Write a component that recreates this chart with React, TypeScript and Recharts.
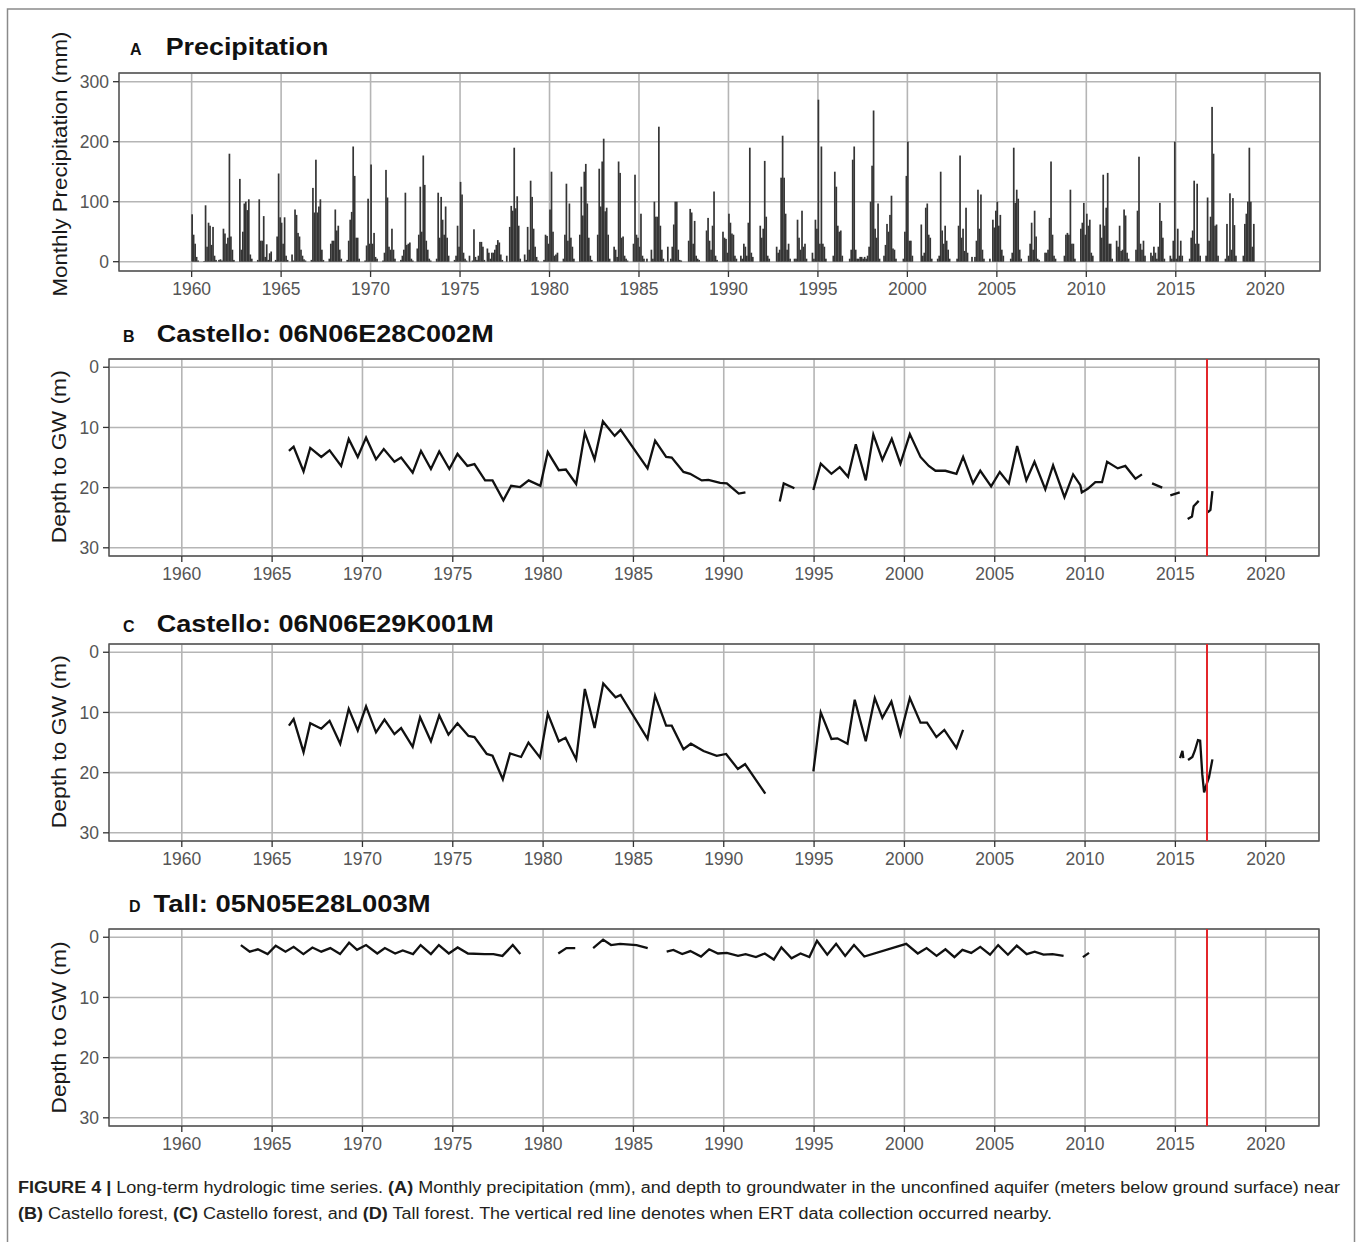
import {
  BarChart,
  Bar,
  LineChart,
  Line,
  XAxis,
  YAxis,
  CartesianGrid,
  ReferenceLine,
  ReferenceArea,
} from "recharts";

// ---- data ----
const firstPrecipYear = 1960;

// monthly precipitation (mm), one row per calendar year, Jan..Dec
const precipMonthly: number[][] = [
  [79, 45, 30, 8, 2, 0, 0, 0, 1, 94, 25, 65], // 1960
  [60, 28, 58, 10, 3, 0, 3, 4, 2, 55, 47, 30],
  [40, 180, 42, 20, 3, 0, 0, 0, 138, 20, 50, 97],
  [100, 86, 104, 12, 5, 0, 0, 0, 3, 104, 35, 35],
  [76, 8, 29, 3, 14, 17, 0, 0, 3, 42, 147, 74],
  [65, 30, 74, 10, 3, 0, 0, 12, 2, 87, 78, 48], // 1965
  [42, 20, 10, 4, 2, 0, 0, 0, 3, 123, 82, 170],
  [82, 92, 104, 20, 3, 0, 0, 0, 5, 30, 35, 35],
  [87, 52, 60, 20, 5, 0, 0, 0, 3, 35, 70, 83],
  [192, 143, 40, 40, 5, 0, 0, 0, 2, 27, 105, 30],
  [162, 30, 48, 8, 5, 0, 0, 0, 2, 15, 153, 107], // 1970
  [25, 20, 55, 20, 5, 0, 0, 0, 3, 10, 20, 115],
  [28, 30, 32, 5, 2, 0, 0, 22, 45, 125, 50, 177],
  [128, 35, 20, 5, 2, 0, 0, 0, 5, 115, 40, 108],
  [70, 45, 92, 40, 10, 0, 0, 0, 3, 10, 60, 25],
  [133, 112, 15, 5, 2, 0, 10, 0, 2, 54, 8, 3], // 1975
  [10, 33, 33, 25, 3, 0, 22, 15, 5, 15, 15, 20],
  [28, 36, 32, 12, 3, 0, 0, 10, 0, 58, 93, 85],
  [190, 89, 109, 60, 5, 0, 0, 12, 3, 58, 20, 135],
  [108, 55, 25, 8, 2, 0, 0, 0, 3, 45, 43, 30],
  [87, 150, 50, 10, 12, 15, 0, 0, 0, 5, 45, 130], // 1980
  [35, 97, 40, 25, 5, 0, 0, 0, 45, 125, 77, 150],
  [163, 97, 40, 10, 3, 0, 0, 0, 45, 155, 92, 167],
  [205, 84, 90, 45, 5, 0, 0, 25, 20, 8, 167, 148],
  [40, 42, 10, 5, 2, 0, 0, 0, 30, 145, 45, 40],
  [25, 80, 10, 5, 0, 5, 0, 0, 20, 5, 100, 75], // 1985
  [75, 225, 60, 20, 5, 0, 0, 25, 0, 5, 25, 62],
  [100, 100, 20, 3, 2, 0, 0, 0, 0, 35, 88, 82],
  [30, 68, 10, 5, 3, 0, 0, 0, 0, 52, 73, 35],
  [20, 60, 117, 10, 3, 0, 0, 0, 50, 40, 38, 15],
  [80, 65, 47, 45, 10, 5, 0, 0, 10, 5, 30, 25], // 1990
  [10, 65, 190, 15, 8, 0, 0, 0, 0, 60, 40, 55],
  [168, 75, 10, 5, 0, 0, 0, 0, 25, 15, 20, 140],
  [210, 140, 80, 20, 30, 5, 0, 0, 5, 5, 70, 40],
  [20, 85, 25, 30, 5, 0, 0, 0, 15, 5, 70, 55],
  [270, 30, 192, 30, 25, 5, 0, 0, 0, 0, 10, 150], // 1995
  [125, 60, 50, 52, 10, 0, 0, 0, 0, 5, 20, 170],
  [192, 20, 5, 5, 8, 8, 5, 8, 5, 10, 25, 100],
  [160, 252, 55, 40, 97, 5, 0, 0, 10, 28, 63, 50],
  [78, 110, 22, 20, 5, 0, 0, 0, 0, 5, 50, 143],
  [200, 35, 35, 10, 0, 0, 0, 0, 0, 62, 10, 15], // 2000
  [90, 97, 45, 40, 5, 0, 0, 0, 5, 10, 150, 52],
  [30, 60, 35, 20, 5, 0, 0, 0, 0, 5, 60, 177],
  [40, 55, 18, 90, 15, 0, 0, 8, 0, 8, 35, 120],
  [55, 112, 20, 5, 0, 0, 0, 5, 0, 70, 57, 85],
  [100, 60, 78, 20, 10, 0, 0, 0, 0, 5, 15, 190], // 2005
  [98, 120, 105, 20, 5, 0, 0, 0, 0, 10, 30, 65],
  [20, 85, 42, 5, 3, 0, 0, 0, 15, 15, 20, 73],
  [167, 45, 10, 5, 0, 0, 0, 0, 0, 10, 45, 48],
  [45, 120, 30, 30, 5, 0, 0, 0, 55, 65, 98, 45],
  [80, 60, 70, 15, 10, 0, 0, 0, 0, 62, 40, 145], // 2010
  [60, 90, 148, 30, 30, 5, 0, 0, 35, 25, 60, 18],
  [20, 87, 77, 15, 5, 0, 0, 0, 0, 20, 85, 175],
  [30, 20, 35, 10, 0, 0, 0, 15, 10, 25, 15, 5],
  [25, 98, 68, 40, 5, 0, 0, 0, 10, 5, 35, 200],
  [5, 55, 10, 35, 10, 0, 0, 0, 0, 5, 40, 52], // 2015
  [135, 30, 130, 30, 10, 0, 0, 0, 10, 107, 35, 75],
  [258, 180, 60, 62, 10, 0, 0, 0, 0, 5, 63, 10],
  [114, 20, 106, 61, 10, 0, 0, 0, 0, 10, 63, 80],
  [100, 190, 100, 25, 63], // 2019 (Jan-May)
];

const yearTicks = [1960, 1965, 1970, 1975, 1980, 1985, 1990, 1995, 2000, 2005, 2010, 2015, 2020];
const precipTicks = [0, 100, 200, 300];
const depthTicks = [0, 10, 20, 30];
const ertDate = 2016.75;

// depth to groundwater (m); null = no measurements
const wellBTime = [
  1965.93, 1966.19, 1966.74, 1967.11, 1967.72, 1968.18, 1968.82, 1969.24, 1969.74, 1970.2,
  1970.75, 1971.18, 1971.77, 1972.14, 1972.78, 1973.24, 1973.79, 1974.25, 1974.81, 1975.26,
  1975.81, 1976.2, 1976.79, 1977.2, 1977.8, 1978.23, 1978.73, 1979.2, 1979.85, 1980.26,
  1980.87, 1981.26, 1981.83, 1982.31, 1982.85, 1983.31, 1983.96, 1984.29, 1985.78, 1986.2,
  1986.81, 1987.12, 1987.77, 1988.14, 1988.78, 1989.15, 1989.8, 1990.17, 1990.83, 1991.2,
  1992.2, 1993.1, 1993.32, 1993.91, 1994.4, 1994.96, 1995.37, 1995.96, 1996.42, 1996.88,
  1997.31, 1997.86, 1998.28, 1998.78, 1999.3, 1999.78, 2000.3, 2000.89, 2001.35, 2001.72,
  2002.27, 2002.88, 2003.25, 2003.8, 2004.2, 2004.8, 2005.28, 2005.78, 2006.24, 2006.75,
  2007.2, 2007.8, 2008.23, 2008.86, 2009.34, 2009.74, 2009.82, 2010.15, 2010.57, 2010.94,
  2011.22, 2011.81, 2012.23, 2012.79, 2013.15, 2013.43, 2013.71, 2014.27, 2014.5, 2014.72,
  2015.24, 2015.46, 2015.68, 2015.92, 2016.01, 2016.29, 2016.5, 2016.79, 2016.94, 2017.05,
];
const wellBDepth = [
  13.9, 13.2, 17.3, 13.4, 14.9, 13.8, 16.4, 11.9, 14.9, 11.7,
  15.3, 13.6, 15.7, 15.0, 17.5, 13.9, 16.9, 14.0, 16.9, 14.4,
  16.4, 16.1, 18.8, 18.8, 22.1, 19.7, 19.9, 18.8, 19.7, 14.1,
  17.1, 17.0, 19.4, 10.9, 15.3, 9.0, 11.4, 10.4, 16.8, 12.2,
  14.9, 15.0, 17.4, 17.7, 18.8, 18.7, 19.2, 19.3, 21.0, 20.8,
  null, 22.3, 19.3, 20.1, null, 20.4, 16.0, 17.7, 16.6, 18.2,
  12.8, 18.8, 11.2, 15.4, 11.9, 16.0, 11.1, 14.9, 16.4, 17.2,
  17.2, 17.7, 14.9, 19.3, 17.2, 19.8, 17.4, 19.3, 13.1, 18.8,
  15.7, 20.3, 16.3, 21.6, 17.8, 19.6, 20.8, 20.2, 19.1, 19.1,
  15.7, 16.8, 16.4, 18.5, 17.8, null, 19.3, 20.0, null, 21.3,
  20.8, null, 25.2, 24.8, 23.1, 22.2, null, 24.1, 23.7, 20.6,
];

const wellCTime = [
  1965.93, 1966.19, 1966.74, 1967.11, 1967.72, 1968.18, 1968.77, 1969.24, 1969.74, 1970.2,
  1970.75, 1971.22, 1971.77, 1972.14, 1972.78, 1973.19, 1973.79, 1974.25, 1974.76, 1975.26,
  1975.87, 1976.2, 1976.88, 1977.2, 1977.77, 1978.17, 1978.78, 1979.19, 1979.83, 1980.26,
  1980.87, 1981.24, 1981.83, 1982.31, 1982.85, 1983.33, 1984.01, 1984.29, 1985.78, 1986.2,
  1986.81, 1987.12, 1987.77, 1988.18, 1988.88, 1989.61, 1990.13, 1990.78, 1991.18, 1992.3,
  1993.6, 1994.96, 1995.37, 1995.96, 1996.29, 1996.85, 1997.25, 1997.86, 1998.36, 1998.78,
  1999.28, 1999.78, 2000.3, 2000.89, 2001.25, 2001.77, 2002.21, 2002.88, 2003.25, 2009.0,
  2015.26, 2015.39, 2015.44, 2015.55, 2015.7, 2015.94, 2016.07, 2016.25, 2016.37, 2016.49,
  2016.59, 2016.73, 2016.86, 2017.05,
];
const wellCDepth = [
  12.2, 11.1, 16.6, 11.8, 12.7, 11.4, 15.2, 9.4, 13.0, 9.0,
  13.3, 11.2, 13.6, 12.6, 15.7, 10.8, 14.8, 10.5, 13.7, 11.8,
  13.9, 14.1, 16.9, 17.2, 21.1, 16.8, 17.4, 15.0, 17.5, 10.2,
  14.8, 14.2, 17.8, 6.1, 12.6, 5.2, 7.5, 7.1, 14.4, 7.2,
  12.2, 12.2, 16.1, 15.2, 16.4, 17.2, 16.9, 19.4, 18.6, 23.5,
  null, 19.8, 10.0, 14.4, 14.3, 15.2, 7.9, 14.8, 7.6, 10.9,
  8.2, 13.7, 7.6, 11.7, 11.7, 14.1, 12.9, 15.9, 12.9, null,
  17.6, 16.4, 17.6, null, 17.9, 17.4, 16.4, 14.6, 14.7, 20.3,
  23.3, 21.9, 20.8, 17.8,
];

const wellDTime = [
  1963.27, 1963.76, 1964.21, 1964.75, 1965.2, 1965.74, 1966.19, 1966.73, 1967.23, 1967.72,
  1968.22, 1968.76, 1969.26, 1969.7, 1970.2, 1970.82, 1971.24, 1971.81, 1972.23, 1972.8,
  1973.22, 1973.79, 1974.23, 1974.78, 1975.27, 1975.84, 1976.76, 1977.25, 1977.75, 1978.32,
  1978.74, 1979.8, 1980.84, 1981.29, 1981.78, 1982.3, 1982.77, 1983.32, 1983.76, 1984.26,
  1985.17, 1985.79, 1986.3, 1986.84, 1987.21, 1987.7, 1988.15, 1988.74, 1989.19, 1989.68,
  1990.17, 1990.79, 1991.21, 1991.78, 1992.27, 1992.77, 1993.19, 1993.75, 1994.25, 1994.74,
  1995.16, 1995.73, 1996.22, 1996.72, 1997.21, 1997.78, 2000.1, 2000.74, 2001.23, 2001.78,
  2002.27, 2002.77, 2003.21, 2003.7, 2004.2, 2004.74, 2005.19, 2005.73, 2006.22, 2006.77,
  2007.21, 2007.7, 2008.2, 2008.81, 2009.3, 2009.88, 2010.22,
];
const wellDDepth = [
  1.3, 2.4, 2.0, 2.8, 1.4, 2.4, 1.6, 2.8, 1.7, 2.4,
  1.8, 2.8, 0.9, 2.1, 1.3, 2.7, 1.8, 2.7, 2.2, 2.8,
  1.3, 2.8, 1.3, 2.7, 1.7, 2.7, 2.8, 2.8, 3.1, 1.3,
  2.8, null, 2.7, 1.8, 1.8, null, 1.8, 0.4, 1.3, 1.1,
  1.3, 1.8, null, 2.4, 2.1, 2.8, 2.3, 3.2, 2.0, 2.7,
  2.6, 3.1, 2.8, 3.3, 2.7, 3.7, 1.7, 3.5, 2.7, 3.3,
  0.6, 2.9, 1.1, 3.1, 1.3, 3.2, 1.1, 2.7, 1.8, 3.1,
  2.0, 3.3, 2.1, 2.6, 1.6, 2.9, 1.3, 2.9, 1.4, 2.8,
  2.4, 2.9, 2.8, 3.1, null, 3.3, 2.6,
];

// ---- styling ----
const FONT = "'Liberation Sans', Arial, Helvetica, sans-serif";
const GRID = "#b5b5b5";
const BORDER = "#555555";
const TICK = { fill: "#555555", fontSize: 17.5, fontFamily: FONT };
const TICK_LINE = { stroke: "#333333", strokeWidth: 1.3 };
const PRECIP_X: [number, number] = [1955.94, 2023.06];
const DEPTH_X: [number, number] = [1955.97, 2022.95];
const PRECIP_Y: [number, number] = [-15.5, 314.5];
const DEPTH_Y: [number, number] = [-1.37, 31.36];
const BAR_W = 1.7;

const precipData = precipMonthly.flatMap((row, i) =>
  row.map((p, m) => ({ t: firstPrecipYear + i + (m + 0.5) / 12, p }))
);

const toSeries = (time: number[], depth: (number | null)[]) =>
  time.map((t, i) => ({ t, d: depth[i] }));

// monthly bar, centred on the position the x scale gives it
const MonthBar = (props: any) => {
  const { x, y, width, height } = props;
  if (!height || height <= 0) return null;
  return <rect x={x + width / 2 - BAR_W / 2} y={y} width={BAR_W} height={height} fill="#353535" />;
};

const PrecipPanel = () => (
  <div style={{ position: "absolute", left: 0, top: 63 }}>
    <BarChart
      width={1358}
      height={243}
      data={precipData}
      margin={{ top: 10, right: 38, bottom: 0, left: 0 }}
    >
      <CartesianGrid stroke={GRID} strokeWidth={1.6} />
      <XAxis
        type="number"
        dataKey="t"
        domain={PRECIP_X}
        ticks={yearTicks}
        allowDataOverflow
        interval={0}
        height={35}
        axisLine={false}
        tickLine={TICK_LINE}
        tickSize={6}
        tickMargin={6}
        tick={TICK}
      />
      <YAxis
        type="number"
        domain={PRECIP_Y}
        ticks={precipTicks}
        allowDataOverflow
        interval={0}
        width={119}
        axisLine={false}
        tickLine={TICK_LINE}
        tickSize={6}
        tickMargin={4}
        tick={TICK}
      />
      <Bar dataKey="p" fill="#353535" barSize={1} shape={MonthBar} isAnimationActive={false} />
      <ReferenceArea
        x1={PRECIP_X[0]}
        x2={PRECIP_X[1]}
        y1={PRECIP_Y[0]}
        y2={PRECIP_Y[1]}
        fill="none"
        stroke={BORDER}
        strokeWidth={1.4}
        ifOverflow="visible"
      />
    </BarChart>
  </div>
);

const DepthPanel = ({ top, data }: { top: number; data: { t: number; d: number | null }[] }) => (
  <div style={{ position: "absolute", left: 0, top }}>
    <LineChart
      width={1358}
      height={242}
      data={data}
      margin={{ top: 10, right: 39, bottom: 0, left: 0 }}
    >
      <CartesianGrid stroke={GRID} strokeWidth={1.6} />
      <XAxis
        type="number"
        dataKey="t"
        domain={DEPTH_X}
        ticks={yearTicks}
        allowDataOverflow
        interval={0}
        height={35}
        axisLine={false}
        tickLine={TICK_LINE}
        tickSize={6}
        tickMargin={6}
        tick={TICK}
      />
      <YAxis
        type="number"
        domain={DEPTH_Y}
        ticks={depthTicks}
        reversed
        allowDataOverflow
        interval={0}
        width={109}
        axisLine={false}
        tickLine={TICK_LINE}
        tickSize={6}
        tickMargin={4}
        tick={TICK}
      />
      <Line
        type="linear"
        dataKey="d"
        stroke="#111111"
        strokeWidth={2.3}
        dot={false}
        connectNulls={false}
        isAnimationActive={false}
      />
      <ReferenceArea
        x1={DEPTH_X[0]}
        x2={DEPTH_X[1]}
        y1={DEPTH_Y[0]}
        y2={DEPTH_Y[1]}
        fill="none"
        stroke={BORDER}
        strokeWidth={1.4}
        ifOverflow="visible"
      />
      <ReferenceLine x={ertDate} stroke="#e3262b" strokeWidth={2} />
    </LineChart>
  </div>
);

const YTitle = ({ x, y, len, text }: { x: number; y: number; len: number; text: string }) => (
  <text
    x={x}
    y={y}
    transform={`rotate(-90 ${x} ${y})`}
    textAnchor="middle"
    fontSize={21}
    fill="#1a1a1a"
    fontFamily={FONT}
    textLength={len}
    lengthAdjust="spacingAndGlyphs"
  >
    {text}
  </text>
);

const PanelTitle = ({
  letter,
  lx,
  tx,
  y,
  len,
  text,
}: {
  letter: string;
  lx: number;
  tx: number;
  y: number;
  len: number;
  text: string;
}) => (
  <g fontFamily={FONT} fontWeight="bold" fill="#111">
    <text x={lx} y={y} fontSize={16}>
      {letter}
    </text>
    <text x={tx} y={y} fontSize={24} textLength={len} lengthAdjust="spacingAndGlyphs">
      {text}
    </text>
  </g>
);

const App = () => {
  return (
    <div style={{ position: "absolute", left: 0, top: 0, width: 1358, height: 1242, background: "#fff" }}>
      <svg width={1358} height={1242} style={{ position: "absolute", left: 0, top: 0 }}>
        <rect x={7.5} y={9} width={1347} height={1250} fill="none" stroke="#8a8a8a" strokeWidth={1.5} />

        <PanelTitle letter="A" lx={130} tx={165.7} y={54.5} len={162.6} text="Precipitation" />
        <PanelTitle letter="B" lx={123} tx={156.7} y={342} len={337} text="Castello: 06N06E28C002M" />
        <PanelTitle letter="C" lx={123} tx={156.7} y={632} len={337} text="Castello: 06N06E29K001M" />
        <PanelTitle letter="D" lx={129} tx={153.6} y={911.5} len={277} text="Tall: 05N05E28L003M" />

        <YTitle x={67.3} y={164} len={265} text="Monthly Precipitation (mm)" />
        <YTitle x={66} y={456.7} len={173} text="Depth to GW (m)" />
        <YTitle x={66} y={741.7} len={173} text="Depth to GW (m)" />
        <YTitle x={66} y={1027.5} len={172} text="Depth to GW (m)" />

        <g fontFamily={FONT} fontSize={16} fill="#231f20">
          <text x={18} y={1193} textLength={1322} lengthAdjust="spacingAndGlyphs">
            <tspan fontWeight="bold">FIGURE 4 | </tspan>
            Long-term hydrologic time series. <tspan fontWeight="bold">(A)</tspan> Monthly precipitation (mm), and
            depth to groundwater in the unconfined aquifer (meters below ground surface) near
          </text>
          <text x={18} y={1219} textLength={1034} lengthAdjust="spacingAndGlyphs">
            <tspan fontWeight="bold">(B)</tspan> Castello forest, <tspan fontWeight="bold">(C)</tspan> Castello
            forest, and <tspan fontWeight="bold">(D)</tspan> Tall forest. The vertical red line denotes when ERT data
            collection occurred nearby.
          </text>
        </g>
      </svg>

      <PrecipPanel />
      <DepthPanel top={348.5} data={toSeries(wellBTime, wellBDepth)} />
      <DepthPanel top={633.5} data={toSeries(wellCTime, wellCDepth)} />
      <DepthPanel top={919} data={toSeries(wellDTime, wellDDepth)} />
    </div>
  );
};

export default App;
